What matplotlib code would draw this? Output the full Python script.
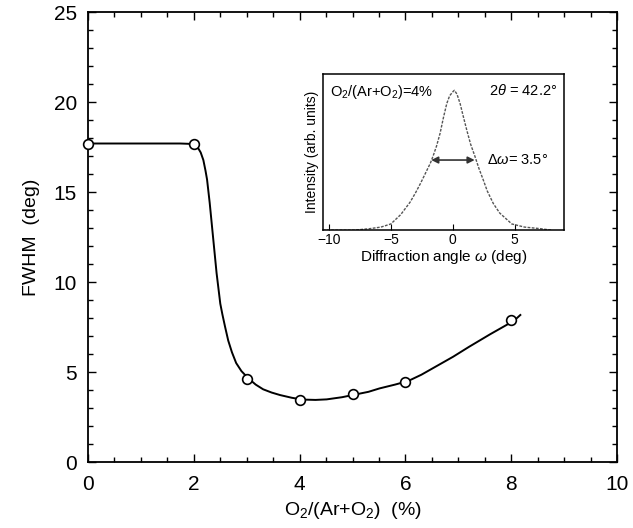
import numpy as np
import matplotlib
matplotlib.use('Agg')
import matplotlib.pyplot as plt
from matplotlib.ticker import MultipleLocator

plt.rcParams['font.family'] = ['Liberation Sans', 'DejaVu Sans']
plt.rcParams['mathtext.fontset'] = 'custom'
plt.rcParams['mathtext.rm'] = 'Liberation Sans'
plt.rcParams['mathtext.it'] = 'Liberation Sans:italic'

# measured FWHM points
o2_ratio = [0, 2, 3, 4, 5, 6, 8]
fwhm = [17.67, 17.67, 4.61, 3.44, 3.78, 4.43, 7.89]

# guide line
guide_x = [0.0, 1.0, 1.74, 1.93, 2.02, 2.08, 2.13, 2.18, 2.22, 2.25, 2.30,
           2.37, 2.43, 2.50, 2.54, 2.59, 2.65, 2.72, 2.80, 2.90, 3.03, 3.17,
           3.31, 3.47, 3.63, 3.85, 4.05, 4.30, 4.51, 4.80, 5.05, 5.30, 5.51,
           5.80, 6.05, 6.30, 6.60, 6.90, 7.20, 7.60, 8.05, 8.17]
guide_y = [17.7, 17.7, 17.7, 17.68, 17.6, 17.45, 17.2, 16.78, 16.2, 15.7,
           14.4, 12.3, 10.5, 8.8, 8.2, 7.52, 6.75, 6.1, 5.5, 5.05, 4.65, 4.3,
           4.04, 3.86, 3.72, 3.57, 3.47, 3.45, 3.48, 3.6, 3.75, 3.9, 4.09,
           4.3, 4.5, 4.85, 5.35, 5.85, 6.4, 7.1, 7.85, 8.17]

# inset rocking curve (normalised to inset height)
omega = [-10.5, -8.0, -6.7, -5.8, -5.0, -4.2, -3.44, -3.0, -2.6, -2.23,
         -1.8, -1.56, -1.3, -1.02, -0.75, -0.48, -0.25, 0.06, 0.14, 0.35,
         0.6, 0.85, 1.14, 1.45, 1.81, 2.1, 2.48, 2.8, 3.29, 3.8, 4.78, 5.8,
         7.07, 8.0]
intensity = [0.0, 0.0, 0.01, 0.02, 0.04, 0.1, 0.18, 0.24, 0.30, 0.36,
             0.43, 0.48, 0.54, 0.62, 0.72, 0.81, 0.86, 0.89, 0.895, 0.87,
             0.81, 0.73, 0.64, 0.55, 0.47, 0.4, 0.32, 0.25, 0.17, 0.11, 0.04,
             0.02, 0.01, 0.0]
half_left, half_right, half_level = -1.96, 2.0, 0.449

fig = plt.figure(figsize=(6.33, 5.28), dpi=100)
ax = fig.add_axes([0.139, 0.125, 0.836, 0.852])

ax.plot(guide_x, guide_y, color='black', lw=1.4, zorder=2,
        solid_joinstyle='round')
ax.plot(o2_ratio, fwhm, 'o', ms=7, mfc='white', mec='black', mew=1.2,
        clip_on=False, zorder=3)

ax.set_xlim(0, 10)
ax.set_ylim(0, 25)
ax.xaxis.set_major_locator(MultipleLocator(2))
ax.xaxis.set_minor_locator(MultipleLocator(0.5))
ax.yaxis.set_major_locator(MultipleLocator(5))
ax.yaxis.set_minor_locator(MultipleLocator(1))
ax.tick_params(which='both', direction='in', top=True, right=True,
               width=1.0, labelsize=15)
ax.tick_params(which='major', length=6)
ax.tick_params(which='minor', length=3.5)
ax.tick_params(axis='x', pad=9)
ax.tick_params(axis='y', pad=8)
for s in ax.spines.values():
    s.set_linewidth(1.3)
ax.set_xlabel(r'O$_2$/(Ar+O$_2$)  (%)', fontsize=14, labelpad=5)
ax.set_ylabel('FWHM  (deg)', fontsize=14, labelpad=10)

# inset
ins = fig.add_axes([0.51, 0.564, 0.381, 0.296])
ins.plot(omega, intensity, color='#555555', lw=1.0, ls=(0, (2, 1)))
ins.set_xlim(-10.5, 9)
ins.set_ylim(0, 1)
ins.set_xticks([-10, -5, 0, 5])
ins.set_yticks([])
ins.tick_params(direction='in', length=4, labelsize=10, pad=2)
for s in ins.spines.values():
    s.set_linewidth(1.1)
ins.set_xlabel(r'Diffraction angle $\omega$ (deg)', fontsize=11, labelpad=1)
ins.set_ylabel('Intensity (arb. units)', fontsize=10, labelpad=3)
ins.annotate('', xy=(half_left, half_level), xytext=(half_right, half_level),
             arrowprops=dict(arrowstyle='<|-|>', color='#333333', lw=1.2,
                             mutation_scale=10))
ins.text(0.03, 0.94, r'O$_2$/(Ar+O$_2$)=4%', transform=ins.transAxes,
         fontsize=10.5, va='top', ha='left')
ins.text(0.97, 0.94, r'2$\theta$ = 42.2$\degree$', transform=ins.transAxes,
         fontsize=10.5, va='top', ha='right')
ins.text(half_right + 0.8, half_level, r'$\Delta\omega$= 3.5$\degree$',
         fontsize=10.5, va='center', ha='left')

fig.savefig('out.png', dpi=100)
